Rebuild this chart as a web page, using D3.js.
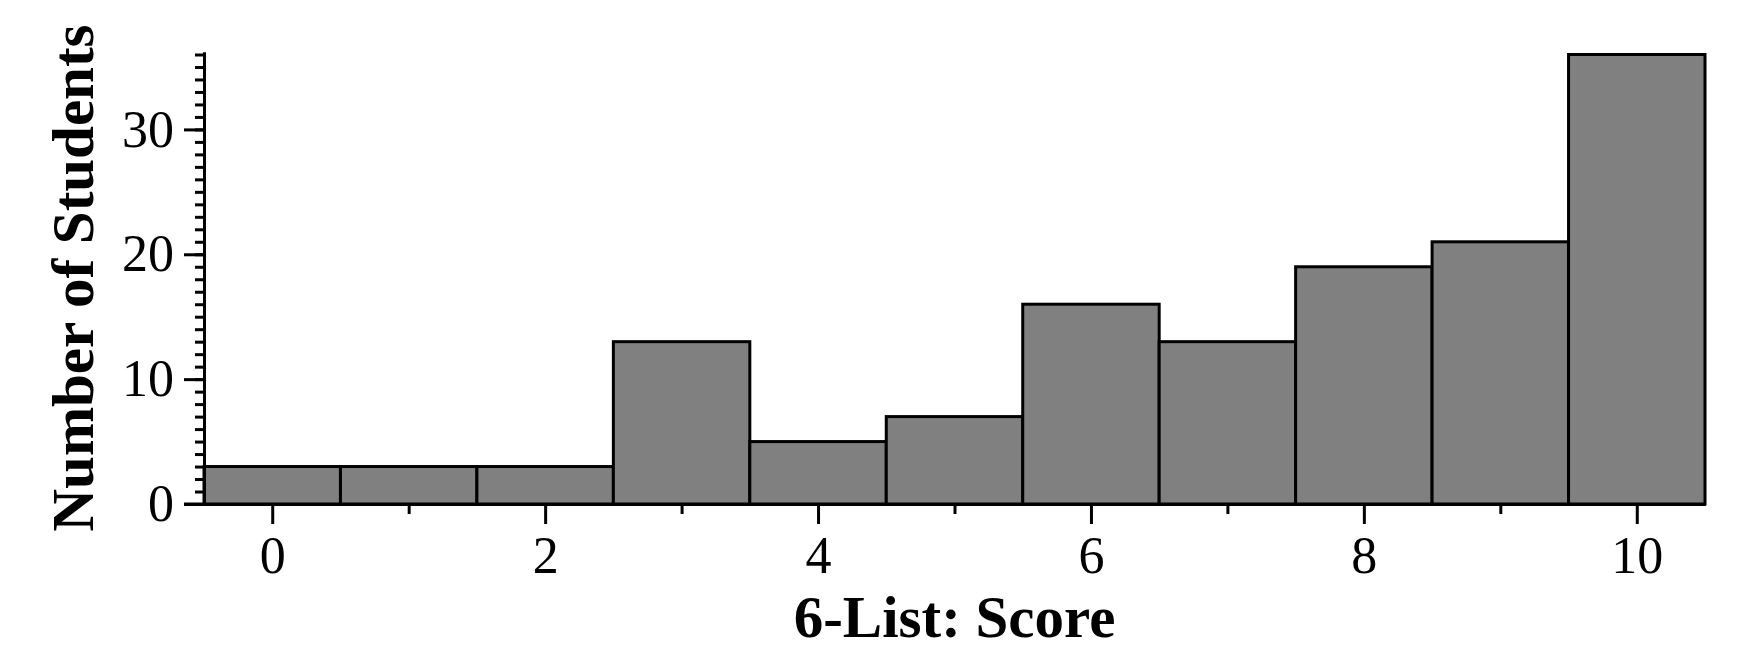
<!DOCTYPE html>
<html>
<meta charset="utf-8">
<style>
body { margin: 0; background: #fff; }
svg { display: block; }
text { font-family: "Liberation Serif", "Times New Roman", serif; fill: #000; }
.axis path, .axis line { stroke: #000; stroke-width: 3px; }
.axis text { font-size: 52px; font-family: "Liberation Serif", serif; }
.bar { fill: #808080; stroke: #000; stroke-width: 3px; }
.title { font-size: 59px; font-weight: bold; }
</style>
<body>
<svg id="chart" width="1748" height="654"></svg>
<script src="https://cdn.jsdelivr.net/npm/d3@7"></script>
<script>
// histogram of scores
var scores = [0, 1, 2, 3, 4, 5, 6, 7, 8, 9, 10];
var counts = [3, 3, 3, 13, 5, 7, 16, 13, 19, 21, 36];
var xTicks = [0, 2, 4, 6, 8, 10];
var xMinor = [1, 3, 5, 7, 9];
var yTicks = [0, 10, 20, 30];
var yMinor = d3.range(0, 37);

var svg = d3.select("#chart"),
    mLeft = 204, mRight = 1705, mTop = 52, mBottom = 504;

var x = d3.scaleLinear().domain([-0.5, 10.5]).range([mLeft, mRight]);
var y = d3.scaleLinear().domain([0, 36.2]).range([mBottom, mTop]);

svg.selectAll("rect.bar")
  .data(scores)
  .enter().append("rect")
    .attr("class", "bar")
    .attr("x", function(d) { return x(d - 0.5); })
    .attr("width", function(d) { return x(d + 0.5) - x(d - 0.5); })
    .attr("y", function(d, i) { return y(counts[i]); })
    .attr("height", function(d, i) { return y(0) - y(counts[i]); });

// minor ticks first, then the labelled ones
svg.append("g").attr("class", "axis")
    .attr("transform", "translate(0," + mBottom + ")")
    .call(d3.axisBottom(x).tickValues(xMinor).tickSize(10).tickFormat("").tickSizeOuter(0));
svg.append("g").attr("class", "axis")
    .attr("transform", "translate(0," + mBottom + ")")
    .call(d3.axisBottom(x).tickValues(xTicks).tickSize(20).tickPadding(8).tickSizeOuter(0))
    .selectAll("text").attr("dy", "0.78em");

svg.append("g").attr("class", "axis")
    .attr("transform", "translate(" + mLeft + ",0)")
    .call(d3.axisLeft(y).tickValues(yMinor).tickSize(9).tickFormat("").tickSizeOuter(0));
svg.append("g").attr("class", "axis")
    .attr("transform", "translate(" + mLeft + ",0)")
    .call(d3.axisLeft(y).tickValues(yTicks).tickSize(20).tickPadding(10).tickSizeOuter(0));

// x axis line runs out to the y "0" tick
svg.append("line")
    .attr("x1", mLeft - 20).attr("x2", mLeft)
    .attr("y1", mBottom).attr("y2", mBottom)
    .attr("stroke", "#000").attr("stroke-width", 3);

svg.append("text")
    .attr("class", "title")
    .attr("x", (mLeft + mRight) / 2)
    .attr("y", 637)
    .attr("text-anchor", "middle")
    .text("6-List: Score");

svg.append("text")
    .attr("class", "title")
    .attr("transform", "translate(93," + (mTop + mBottom) / 2 + ") rotate(-90)")
    .attr("text-anchor", "middle")
    .text("Number of Students");
</script>
</body>
</html>
